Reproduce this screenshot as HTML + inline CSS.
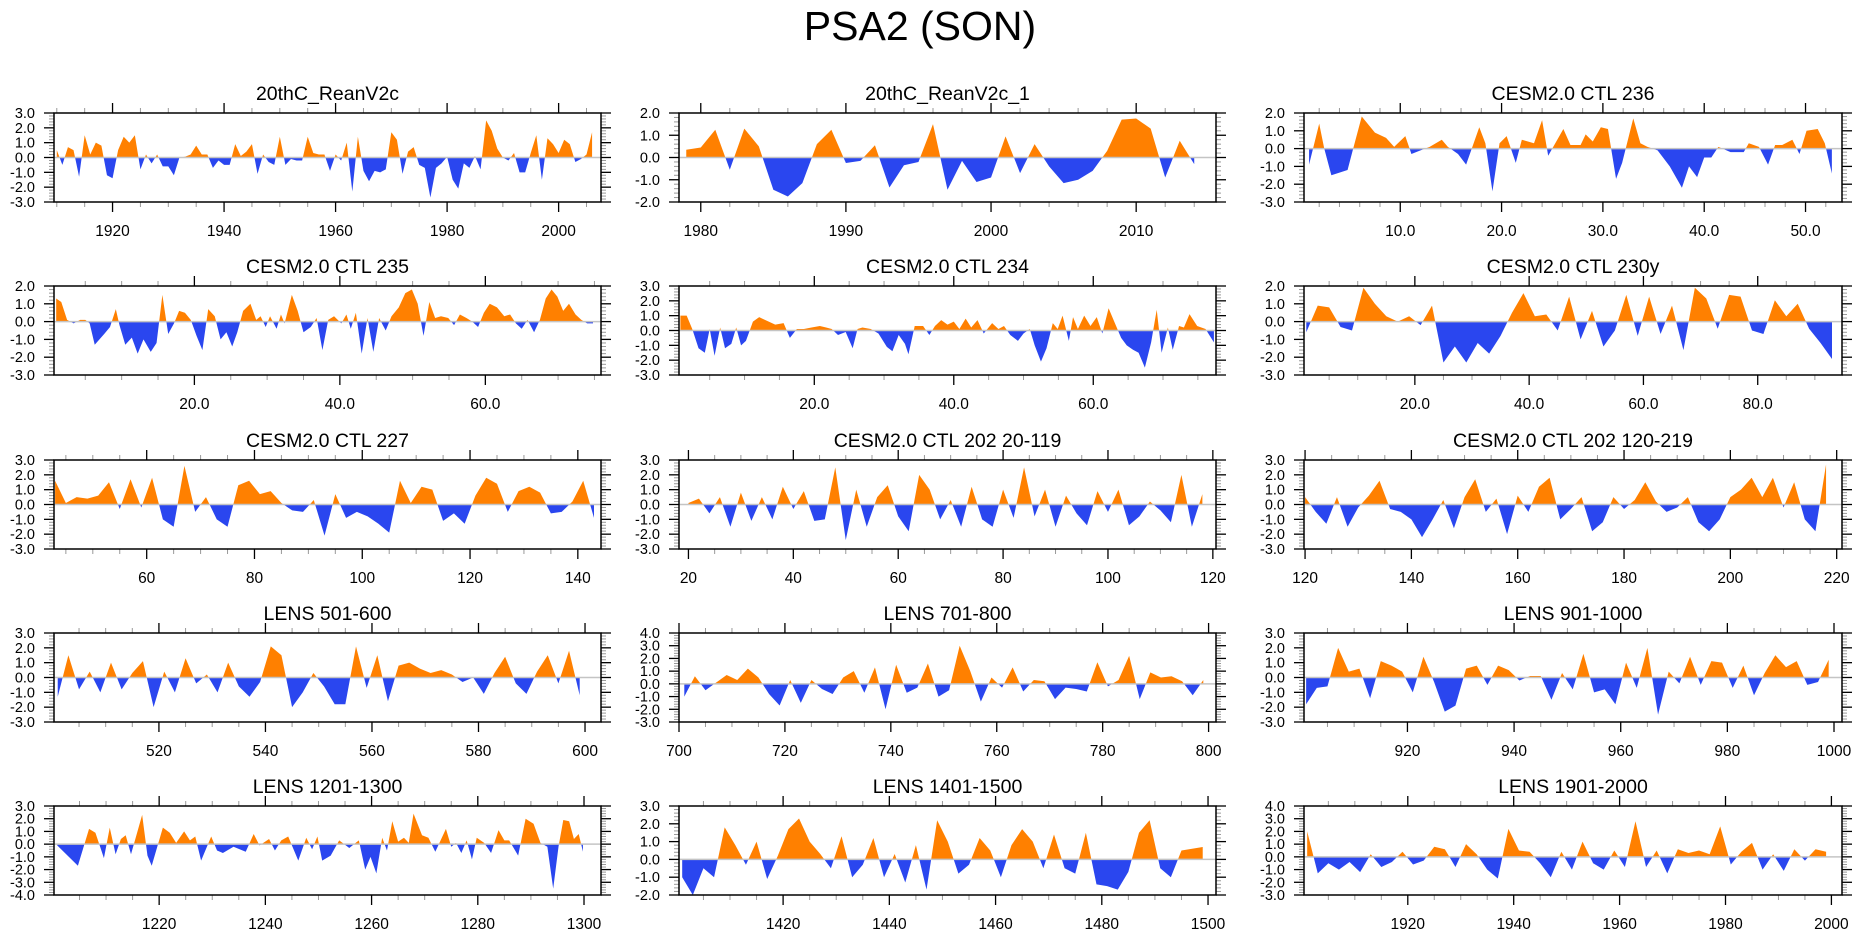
<!DOCTYPE html>
<html><head><meta charset="utf-8"><title>PSA2 (SON)</title>
<style>
html,body{margin:0;padding:0;background:#fff;}
svg{display:block;font-family:"Liberation Sans",Arial,sans-serif;}
</style></head>
<body>
<svg id="fig" width="1861" height="936" viewBox="0 0 1861 936" xmlns="http://www.w3.org/2000/svg">
<rect width="1861" height="936" fill="#fff"/>
<text x="920" y="40" font-size="41" text-anchor="middle" fill="#000">PSA2 (SON)</text>
</svg>
<script>
// ---------- data ----------
const p1Years0 = 1910;
const p1Values = [0.5,-0.5,0.7,0.5,-1.3,1.5,0.2,1.0,0.8,-1.2,-1.4,0.5,1.4,1.0,1.5,-0.8,0.2,-0.4,0.2,-0.6,-0.6,-1.2,0.0,0.05,0.2,0.8,0.2,0.2,-0.7,-0.2,-0.5,-0.5,0.9,0.1,0.4,0.9,-1.1,0.2,-0.3,-0.5,1.4,-0.5,-0.1,-0.2,-0.2,1.4,0.3,0.2,0.2,-0.9,0.2,-0.2,1.0,-2.3,1.4,-0.9,-1.6,-0.9,-1.0,-0.8,1.7,1.2,-1.1,0.4,0.7,-0.5,-0.7,-2.7,-0.7,-0.4,0.05,-1.5,-2.1,-0.4,-0.7,0.1,-0.8,2.5,1.8,0.6,0.0,-0.2,0.3,-1.0,-1.0,0.3,1.5,-1.5,1.3,0.9,0.3,1.2,0.9,-0.3,-0.1,0.2,1.7];

const p2Years0 = 1979;
const p2Values = [0.35,0.45,1.25,-0.55,1.3,0.5,-1.45,-1.75,-1.15,0.6,1.25,-0.25,-0.15,0.55,-1.35,-0.35,-0.2,1.5,-1.45,-0.15,-1.1,-0.9,0.95,-0.7,0.6,-0.4,-1.15,-1.0,-0.6,0.3,1.7,1.75,1.3,-0.9,0.75,-0.3];

const p3X = [1.0,2.0,2.5,3.2,4.8,5.4,6.2,7.5,8.6,9.4,10.5,11.1,12.0,12.9,14.1,14.7,15.7,16.5,17.8,18.4,19.1,19.8,20.5,21.4,22.0,23.2,24.0,24.6,25.4,26.1,26.8,27.8,28.3,29.0,29.8,30.5,31.3,31.9,33.0,33.7,34.4,35.4,36.6,37.8,38.5,39.3,40.0,40.7,41.4,42.6,43.9,44.4,45.4,46.3,47.0,47.7,48.7,49.4,50.1,51.2,51.9,52.6];
const p3Values = [-0.9,1.4,0.0,-1.5,-1.2,0.1,1.8,0.9,0.6,0.1,0.7,-0.3,-0.1,0.1,0.5,0.1,-0.3,-0.9,1.2,0.3,-2.4,0.3,0.7,-0.8,0.5,0.3,1.6,-0.4,0.4,1.1,0.2,0.2,0.8,0.4,1.2,1.1,-1.7,-0.8,1.7,0.3,0.1,-0.1,-1.0,-2.2,-1.0,-1.6,-0.5,-0.5,0.1,-0.2,-0.2,0.3,0.1,-0.9,0.2,0.2,0.5,-0.3,1.0,1.1,0.3,-1.4];

const p4X = [1,1.7,2.5,3.4,4.3,5.0,5.6,6.3,7.6,8.4,9.2,9.7,10.5,11.4,12.2,13.0,14.0,14.8,15.6,16.4,17.2,17.9,18.7,19.5,20.3,21.1,21.9,22.8,23.6,24.4,25.2,25.9,26.7,27.7,28.5,29.1,29.8,30.4,31.3,31.9,32.4,33.4,34.2,35.0,36.0,36.8,37.6,38.4,39.2,40.2,40.9,41.5,42.2,43.0,43.8,44.6,45.4,46.3,47.1,48.1,49.0,49.9,50.7,51.5,52.3,53.1,53.9,54.9,55.7,56.5,57.4,58.2,59.0,59.8,60.6,61.6,62.6,63.4,64.2,65.0,65.8,66.7,67.5,68.3,69.1,69.9,70.7,71.5,72.4,73.2,74.0,74.8];
const p4Values = [1.3,1.1,0.1,-0.1,0.1,0.1,-0.1,-1.3,-0.7,-0.3,0.7,-0.2,-1.3,-0.9,-1.8,-1.0,-1.7,-1.2,1.5,-0.7,-0.1,0.6,0.5,0.1,-0.8,-1.6,0.7,0.3,-1.0,-0.6,-1.4,-0.6,0.6,1.0,0.1,0.3,-0.3,0.3,-0.4,0.4,-0.1,1.5,0.6,-0.6,-0.3,0.2,-1.6,0.1,0.3,-0.1,0.4,-0.4,0.5,-1.8,0.2,-1.7,0.2,-0.5,0.3,0.8,1.6,1.8,1.0,-0.8,1.1,0.2,0.3,0.2,-0.2,0.4,0.2,0.0,-0.3,0.5,1.0,0.8,0.3,0.4,-0.1,-0.4,0.1,-0.6,0.1,1.3,1.8,1.4,0.6,1.0,0.4,0.1,-0.1,-0.1];

const p5X = [0.8,1.7,2.5,3.4,4.3,5.0,5.7,6.5,7.2,8.1,8.8,9.5,10.2,11.2,12.1,13.0,14.4,15.6,16.5,17.5,18.5,19.6,20.8,21.7,22.5,23.4,24.5,25.5,26.2,26.9,28.1,29.2,30.4,31.2,32.1,33.0,33.5,34.4,35.6,36.5,37.3,38.2,39.1,40.0,40.8,41.7,42.5,43.4,44.3,45.5,46.4,47.2,48.1,49.2,50.0,50.9,51.6,52.5,53.3,54.2,54.9,55.6,56.5,57.1,57.8,58.7,59.6,60.5,61.3,62.2,63.1,64.0,64.8,65.7,66.5,67.4,68.3,69.1,69.8,70.7,71.4,72.3,73.0,73.8,74.9,76.1,77.3];
const p5Values = [1.0,1.0,0.1,-1.2,-1.5,0.1,-1.7,0.2,-1.2,-0.9,0.2,-1.0,-0.7,0.6,0.9,0.7,0.4,0.5,-0.5,0.1,0.1,0.2,0.3,0.2,0.1,-0.3,-0.1,-1.2,0.1,0.2,0.1,-0.2,-1.1,-1.4,-0.3,-0.9,-1.6,0.3,0.3,-0.3,0.3,0.7,0.4,0.6,0.1,0.8,0.2,0.7,-0.2,0.5,0.1,0.3,-0.3,-0.7,-0.2,0.1,-1.0,-2.1,-1.2,0.5,0.1,1.0,-0.7,0.9,0.1,1.0,0.3,0.9,-0.2,1.5,0.5,-0.5,-1.0,-1.3,-1.5,-2.5,-0.8,1.4,-1.5,0.2,-1.3,0.3,0.2,1.1,0.3,0.1,-0.8];

const p6Start = 1, p6Step = 2;
const p6Values = [-0.6,0.9,0.8,-0.3,-0.5,1.9,1.0,0.3,0.0,0.3,-0.2,0.9,-2.3,-1.4,-2.3,-1.2,-1.8,-0.8,0.5,1.6,0.3,0.4,-0.5,1.4,-1.0,0.6,-1.4,-0.5,1.5,-0.8,1.4,-0.7,0.9,-1.6,1.9,1.3,-0.4,1.5,1.4,-0.5,-0.7,1.2,0.3,1.0,-0.4,-1.2,-2.1];

const p7Start = 43, p7Step = 2;
const p7Values = [1.6,0.1,0.5,0.4,0.6,1.5,-0.3,1.7,-0.2,1.8,-1.0,-1.5,2.6,-0.5,0.5,-1.0,-1.5,1.3,1.6,0.7,0.9,0.1,-0.4,-0.5,0.3,-2.1,0.7,-0.9,-0.5,-0.8,-1.3,-1.9,1.6,0.1,1.2,1.0,-1.1,-0.6,-1.3,0.6,1.8,1.4,-0.5,0.9,1.2,0.8,-0.6,-0.5,0.2,1.6,-0.9];

const p8Start = 20, p8Step = 2;
const p8Values = [0.1,0.4,-0.6,0.5,-1.5,0.8,-1.1,0.5,-1.0,1.2,-0.3,0.9,-1.1,-1.0,2.5,-2.4,1.0,-1.5,0.5,1.3,-0.8,-1.8,2.0,1.0,-1.0,0.3,-1.5,1.2,-1.0,-1.5,1.0,-0.9,2.5,-0.8,1.0,-1.5,0.6,-0.6,-1.4,0.9,-0.5,1.0,-1.4,-0.8,0.2,-0.4,-1.2,2.0,-1.5,0.7];

const p9Start = 120, p9Step = 2;
const p9Values = [0.5,-0.5,-1.3,0.5,-1.5,-0.2,0.6,1.6,-0.3,-0.5,-1.0,-2.2,-1.0,0.3,-1.6,0.5,1.7,-0.5,0.4,-2.0,0.6,-0.5,1.2,1.8,-1.0,-0.3,0.5,-1.8,-1.2,0.5,-0.3,0.3,1.5,0.2,-0.5,-0.2,0.5,-1.2,-1.8,-1.0,0.5,1.0,1.8,0.5,1.8,-0.2,1.5,-1.0,-1.8,2.7];

const p10Start = 501, p10Step = 2;
const p10Values = [-1.3,1.5,-0.8,0.4,-1.0,1.0,-0.8,0.3,1.1,-2.0,0.4,-1.0,1.3,-0.4,0.2,-1.0,1.0,-0.6,-1.3,-0.3,2.1,1.5,-2.0,-1.0,0.3,-0.6,-1.8,-1.8,2.1,-0.7,1.5,-1.6,0.8,1.0,0.6,0.3,0.5,0.2,-0.3,0.0,-1.1,0.3,1.4,-0.4,-1.1,0.4,1.5,-0.4,1.8,-1.2];

const p11Start = 701, p11Step = 2;
const p11Values = [-1.0,0.6,-0.5,0.1,0.7,0.3,1.2,0.5,-0.8,-1.7,0.3,-1.5,0.3,-0.4,-0.8,0.5,1.0,-0.7,1.3,-2.0,1.5,-0.7,-0.3,1.6,-1.0,-0.5,3.0,1.0,-1.4,0.5,-0.3,1.3,-0.6,0.3,0.2,-1.2,-0.3,-0.4,-0.6,1.7,-0.2,0.3,2.2,-1.2,0.9,0.5,0.6,0.2,-0.9,0.3];

const p12Start = 901, p12Step = 2;
const p12Values = [-1.8,-0.7,-0.6,2.0,0.4,0.6,-1.4,1.1,0.8,0.4,-1.0,1.4,-0.3,-2.3,-1.9,0.6,0.8,-0.5,0.8,0.5,-0.2,0.1,0.1,-1.5,0.3,-0.8,1.6,-1.0,-0.8,-1.8,1.0,-0.7,2.0,-2.5,0.4,-0.4,1.4,-0.5,1.1,1.0,-0.7,0.8,-1.2,0.3,1.5,0.7,1.1,-0.5,-0.3,1.2];

const p13X = [1200.8,1204.7,1206.8,1208,1209.6,1210.7,1211.8,1212.8,1213.7,1214.7,1216.8,1217.8,1218.6,1220.7,1222,1223.2,1224.7,1225.8,1226.8,1227.9,1229.8,1230.9,1232,1234,1236.3,1237.8,1238.9,1240.7,1241.8,1243,1244.3,1246.2,1247.7,1248.8,1249.8,1250.7,1252.3,1253.9,1255.8,1257.6,1258.8,1259.8,1260.9,1262,1262.9,1263.9,1265,1266.1,1267,1267.9,1269.5,1270.7,1272,1274,1275,1275.9,1276.9,1277.9,1278.9,1279.8,1281.2,1282.5,1283.9,1285,1285.9,1287.6,1289,1290.5,1291.8,1293.1,1294.2,1295.2,1296.1,1297.2,1298.1,1299,1299.8];
const p13Values = [-0.1,-1.7,1.2,0.9,-1.1,1.3,-0.8,0.4,0.7,-0.8,2.3,-0.9,-1.7,1.3,0.9,0.1,1.0,0.3,0.6,-1.3,0.6,-0.5,-0.7,-0.2,-0.6,0.8,-0.1,0.4,-0.5,0.3,0.6,-1.3,0.5,-0.4,0.6,-1.3,-0.9,0.3,-0.3,0.3,-2.0,-1.0,-2.3,0.5,-0.5,1.8,0.2,0.5,0.1,2.4,0.7,0.5,-0.6,1.2,-0.2,0.1,-0.7,0.3,-1.2,0.5,0.1,-0.7,1.1,0.3,0.3,-0.9,2.0,1.6,0.1,-0.2,-3.5,-0.2,1.9,1.8,0.4,0.8,-0.6];

const p14Start = 1401, p14Step = 2;
const p14Values = [-1.0,-2.0,-0.5,-1.0,1.8,0.8,-0.3,1.0,-1.1,0.2,1.7,2.3,1.0,0.3,-0.5,1.3,-1.0,-0.3,1.2,-1.0,0.3,-1.3,0.8,-1.7,2.2,1.0,-0.8,-0.3,1.2,0.5,-1.0,0.8,1.7,1.0,-0.5,1.4,-0.5,-0.8,1.5,-1.4,-1.5,-1.7,-0.7,1.5,2.2,-0.5,-1.0,0.5,0.6,0.7];

const p15Start = 1901, p15Step = 2;
const p15Values = [2.0,-1.3,-0.5,-1.0,-0.4,-1.2,0.2,-0.8,-0.4,0.4,-0.6,-0.3,0.8,0.6,-0.8,1.0,0.2,-1.0,-1.7,2.2,0.5,0.4,-0.5,-1.6,0.4,-1.0,1.2,-0.5,-1.0,0.5,-0.8,2.8,-0.8,0.5,-1.3,0.6,0.3,0.5,0.2,2.4,-0.6,0.4,1.1,-1.0,0.2,-1.1,0.6,-0.3,0.6,0.4];

// ---------- layout ----------
const COLS = [[54,601],[679,1216],[1304,1842]];
const ROWTOPS = [113,286,460,633,806];
const PH = 89;
const NS = 'http://www.w3.org/2000/svg';
const svg = document.getElementById('fig');

function uni(start, step, vals){ return vals.map((v,i)=>start+i*step); }

const panels = [
 {name:'20thc-reanv2c', title:'20thC_ReanV2c', c:0, r:0, xmin:1909.5, xmax:2007.6, ymin:-3, ymax:3, maj:20, min:5, dec:false, xs:uni(p1Years0,1,p1Values), ys:p1Values},
 {name:'20thc-reanv2c-1', title:'20thC_ReanV2c_1', c:1, r:0, xmin:1978.5, xmax:2015.5, ymin:-2, ymax:2, maj:10, min:2, dec:false, xs:uni(p2Years0,1,p2Values), ys:p2Values},
 {name:'cesm2-ctl-236', title:'CESM2.0 CTL 236', c:2, r:0, xmin:0.5, xmax:53.6, ymin:-3, ymax:2, maj:10, min:2, dec:true, xs:p3X, ys:p3Values},
 {name:'cesm2-ctl-235', title:'CESM2.0 CTL 235', c:0, r:1, xmin:0.7, xmax:75.9, ymin:-3, ymax:2, maj:20, min:5, dec:true, xs:p4X, ys:p4Values},
 {name:'cesm2-ctl-234', title:'CESM2.0 CTL 234', c:1, r:1, xmin:0.6, xmax:77.6, ymin:-3, ymax:3, maj:20, min:5, dec:true, xs:p5X, ys:p5Values},
 {name:'cesm2-ctl-230y', title:'CESM2.0 CTL 230y', c:2, r:1, xmin:0.6, xmax:94.75, ymin:-3, ymax:2, maj:20, min:5, dec:true, xs:uni(p6Start,p6Step,p6Values), ys:p6Values},
 {name:'cesm2-ctl-227', title:'CESM2.0 CTL 227', c:0, r:2, xmin:42.8, xmax:144.3, ymin:-3, ymax:3, maj:20, min:5, dec:false, xs:uni(p7Start,p7Step,p7Values), ys:p7Values},
 {name:'cesm2-ctl-202-20-119', title:'CESM2.0 CTL 202 20-119', c:1, r:2, xmin:18.2, xmax:120.6, ymin:-3, ymax:3, maj:20, min:5, dec:false, xs:uni(p8Start,p8Step,p8Values), ys:p8Values},
 {name:'cesm2-ctl-202-120-219', title:'CESM2.0 CTL 202 120-219', c:2, r:2, xmin:119.8, xmax:221, ymin:-3, ymax:3, maj:20, min:5, dec:false, xs:uni(p9Start,p9Step,p9Values), ys:p9Values},
 {name:'lens-501-600', title:'LENS 501-600', c:0, r:3, xmin:500.3, xmax:603, ymin:-3, ymax:3, maj:20, min:5, dec:false, xs:uni(p10Start,p10Step,p10Values), ys:p10Values},
 {name:'lens-701-800', title:'LENS 701-800', c:1, r:3, xmin:700, xmax:801.4, ymin:-3, ymax:4, maj:20, min:5, dec:false, xs:uni(p11Start,p11Step,p11Values), ys:p11Values},
 {name:'lens-901-1000', title:'LENS 901-1000', c:2, r:3, xmin:900.6, xmax:1001.5, ymin:-3, ymax:3, maj:20, min:5, dec:false, xs:uni(p12Start,p12Step,p12Values), ys:p12Values},
 {name:'lens-1201-1300', title:'LENS 1201-1300', c:0, r:4, xmin:1200.2, xmax:1303.2, ymin:-4, ymax:3, maj:20, min:5, dec:false, xs:p13X, ys:p13Values},
 {name:'lens-1401-1500', title:'LENS 1401-1500', c:1, r:4, xmin:1400.4, xmax:1501.5, ymin:-2, ymax:3, maj:20, min:5, dec:false, xs:uni(p14Start,p14Step,p14Values), ys:p14Values},
 {name:'lens-1901-2000', title:'LENS 1901-2000', c:2, r:4, xmin:1900.4, xmax:2002, ymin:-3, ymax:4, maj:20, min:5, dec:false, xs:uni(p15Start,p15Step,p15Values), ys:p15Values}
];

function mk(tag, attrs, parent){
  const e = document.createElementNS(NS, tag);
  for (const k in attrs) e.setAttribute(k, attrs[k]);
  (parent||svg).appendChild(e);
  return e;
}

panels.forEach((p, idx) => {
  const L = COLS[p.c][0], R = COLS[p.c][1], T = ROWTOPS[p.r], B = T + PH;
  const X = v => L + (v - p.xmin) / (p.xmax - p.xmin) * (R - L);
  const Y = v => B - (v - p.ymin) / (p.ymax - p.ymin) * (B - T);
  const g = mk('g', {});
  
  

  const defs = mk('defs', {}, g);
  const cp = mk('clipPath', {id:'pos'+idx}, defs);
  mk('rect', {x:L, y:T, width:R-L, height:Y(0)-T}, cp);
  const cn = mk('clipPath', {id:'neg'+idx}, defs);
  mk('rect', {x:L, y:Y(0), width:R-L, height:B-Y(0)}, cn);

  const n = Math.min(p.xs.length, p.ys.length);
  let d = 'M' + X(p.xs[0]).toFixed(2) + ',' + Y(0).toFixed(2);
  for (let i = 0; i < n; i++) d += ' L' + X(p.xs[i]).toFixed(2) + ',' + Y(p.ys[i]).toFixed(2);
  d += ' L' + X(p.xs[n-1]).toFixed(2) + ',' + Y(0).toFixed(2) + ' Z';
  const pos = mk('path', {d:d, fill:'#ff8000', 'clip-path':'url(#pos'+idx+')'}, g);
  
  
  const neg = mk('path', {d:d, fill:'#2a46ef', 'clip-path':'url(#neg'+idx+')'}, g);
  
  

  const zl = mk('line', {x1:L, x2:R, y1:Y(0), y2:Y(0), stroke:'#c4c4c4', 'stroke-width':1.5}, g);
  
  

  // y ticks
  for (let k = Math.round(p.ymin*5); k <= Math.round(p.ymax*5); k++) {
    const v = k/5, y = Y(v), major = (k % 5 === 0);
    const len = major ? 10 : 5;
    const col = major ? '#000' : '#999';
    mk('line', {x1:L-len, x2:L, y1:y, y2:y, stroke:col, 'stroke-width':major?1.3:1}, g);
    mk('line', {x1:R, x2:R+len, y1:y, y2:y, stroke:col, 'stroke-width':major?1.3:1}, g);
    if (major) {
      const t = mk('text', {x:L-19, y:y+5, 'font-size':14.5, 'text-anchor':'end', fill:'#000'}, g);
      
      
      t.textContent = v.toFixed(1);
    }
  }
  // x ticks
  const eps = 1e-6;
  for (let v = Math.ceil(p.xmin/p.min)*p.min; v <= p.xmax + eps; v += p.min) {
    const x = X(v);
    if (x < L - 0.5 || x > R + 0.5) continue;
    const major = Math.abs(v/p.maj - Math.round(v/p.maj)) < 1e-6;
    const len = major ? 10 : 5;
    const col = major ? '#000' : '#999';
    mk('line', {x1:x, x2:x, y1:T-len, y2:T, stroke:col, 'stroke-width':major?1.3:1}, g);
    mk('line', {x1:x, x2:x, y1:B, y2:B+len, stroke:col, 'stroke-width':major?1.3:1}, g);
    if (major) {
      const t = mk('text', {x:x, y:B+34, 'font-size':15.5, 'text-anchor':'middle', fill:'#000'}, g);
      
      
      t.textContent = p.dec ? v.toFixed(1) : String(Math.round(v));
    }
  }
  const fr = mk('rect', {x:L, y:T, width:R-L, height:B-T, fill:'none', stroke:'#000', 'stroke-width':1.5}, g);
  
  

  const tt = mk('text', {x:(L+R)/2, y:T-13, 'font-size':19.5, 'text-anchor':'middle', fill:'#000'}, g);
  
  
  tt.textContent = p.title;
});
</script>
</body></html>
